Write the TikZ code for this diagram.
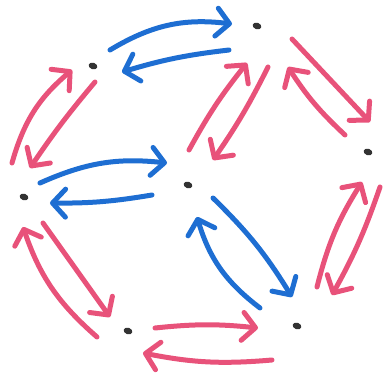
\documentclass[tikz,border=0pt]{standalone}
\usepackage{xcolor}
\usetikzlibrary{arrows.meta,shapes.geometric}

\definecolor{markerblue}{RGB}{30,110,210}
\definecolor{markerpink}{RGB}{232,82,122}

\begin{document}
\begin{tikzpicture}[
  x=1pt, y=-1pt,
  dot/.style={ellipse, fill=black!80, inner sep=0pt, minimum width=9pt, minimum height=6.5pt, rotate=-20},
  blueedge/.style={-{Straight Barb[length=13pt, width=28pt, round]}, markerblue, line width=5pt, line cap=round},
  pinkedge/.style={-{Straight Barb[length=13pt, width=28pt, round]}, markerpink, line width=5pt, line cap=round}
]
  \useasboundingbox (0,0) rectangle (383,377);

  % Points
  \node[dot] (A) at (93,66) {};
  \node[dot] (B) at (257,26) {};
  \node[dot] (C) at (368,152) {};
  \node[dot] (D) at (188,185) {};
  \node[dot] (E) at (24,197) {};
  \node[dot] (F) at (128,331) {};
  \node[dot] (G) at (297,326) {};

  % Blue pairs
  \draw[blueedge] ([shift={(17,-16)}]A.center) to [bend left=19] ([shift={(-25,-2)}]B.center);
  \draw[blueedge] ([shift={(-28,24)}]B.center) to [bend right=5] ([shift={(29,6)}]A.center);
  \draw[blueedge] ([shift={(16,-14)}]E.center) to [bend left=15] ([shift={(-21,-22)}]D.center);
  \draw[blueedge] ([shift={(-36,10)}]D.center) to [bend left=5] ([shift={(26,6)}]E.center);
  \draw[blueedge] ([shift={(25,13)}]D.center) to [bend left=7] ([shift={(-5,-29)}]G.center);
  \draw[blueedge] ([shift={(-37,-18)}]G.center) to [bend left=18] ([shift={(9,32)}]D.center);

  % Pink pairs
  \draw[pinkedge] ([shift={(-12,-34)}]E.center) to [bend left=17] ([shift={(-21,4)}]A.center);
  \draw[pinkedge] ([shift={(2,16)}]A.center) to [bend right=3] ([shift={(6,-29)}]E.center);
  \draw[pinkedge] ([shift={(1,-35)}]D.center) to [bend left=5] ([shift={(-10,37)}]B.center);
  \draw[pinkedge] ([shift={(11,41)}]B.center) to [bend left=4] ([shift={(25,-25)}]D.center);
  \draw[pinkedge] ([shift={(35,13)}]B.center) to ([shift={(2,-30)}]C.center);
  \draw[pinkedge] ([shift={(-23,-17)}]C.center) to [bend left=7] ([shift={(31,41)}]B.center);
  \draw[pinkedge] ([shift={(19,26)}]E.center) to ([shift={(-18,-14)}]F.center);
  \draw[pinkedge] ([shift={(-31,6)}]F.center) to [bend left=15] ([shift={(-1,30)}]E.center);
  \draw[pinkedge] ([shift={(27,-3)}]F.center) to [bend left=6] ([shift={(-39,2)}]G.center);
  \draw[pinkedge] ([shift={(-25,34)}]G.center) to [bend left=8] ([shift={(15,22)}]F.center);
  \draw[pinkedge] ([shift={(20,-39)}]G.center) to [bend left=9] ([shift={(-6,30)}]C.center);
  \draw[pinkedge] ([shift={(12,35)}]C.center) to [bend left=5] ([shift={(35,-31)}]G.center);

\end{tikzpicture}
\end{document}
